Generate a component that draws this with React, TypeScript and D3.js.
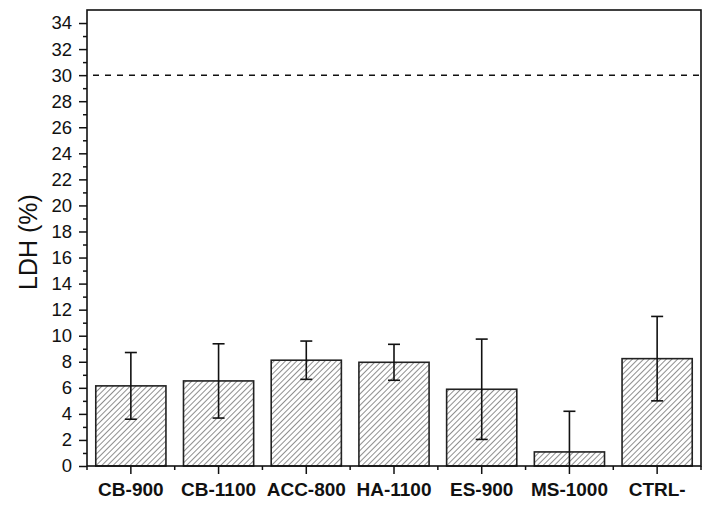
import { useEffect, useRef } from 'react';
import * as d3 from 'd3';

const categories = ['CB-900', 'CB-1100', 'ACC-800', 'HA-1100', 'ES-900', 'MS-1000', 'CTRL-'];
const means = [6.15, 6.53, 8.12, 7.96, 5.89, 1.08, 8.24];
const errors = [2.56, 2.85, 1.47, 1.38, 3.85, 3.12, 3.24];
const yMajorTicks = [0, 2, 4, 6, 8, 10, 12, 14, 16, 18, 20, 22, 24, 26, 28, 30, 32, 34];
const thresholdValue = 30;

const WIDTH = 711;
const HEIGHT = 507;
const M = { top: 10, right: 10, bottom: 41, left: 87 };
const FONT = 'Arial, "Liberation Sans", sans-serif';

export default function App() {
  const svgRef = useRef<SVGSVGElement>(null);

  useEffect(() => {
    if (!svgRef.current) return;
    const svg = d3.select(svgRef.current);
    svg.selectAll('*').remove();

    const innerW = WIDTH - M.left - M.right;
    const innerH = HEIGHT - M.top - M.bottom;

    const x = d3.scaleBand<string>().domain(categories).range([0, innerW]).paddingInner(0.2).paddingOuter(0.1);
    const xStep = d3.scaleBand<string>().domain(categories).range([0, innerW]).padding(0);
    const y = d3.scaleLinear().domain([0, 35]).range([innerH, 0]);

    const defs = svg.append('defs');
    const pat = defs
      .append('pattern')
      .attr('id', 'hatch')
      .attr('patternUnits', 'userSpaceOnUse')
      .attr('width', 4)
      .attr('height', 4)
      .attr('patternTransform', 'rotate(45)');
    pat.append('rect').attr('width', 4).attr('height', 4).attr('fill', '#fff');
    pat.append('line').attr('x1', 0).attr('y1', 0).attr('x2', 0).attr('y2', 4).attr('stroke', '#444').attr('stroke-width', 1.2);

    defs
      .append('clipPath')
      .attr('id', 'plotclip')
      .append('rect')
      .attr('width', innerW)
      .attr('height', innerH);

    const g = svg.append('g').attr('transform', `translate(${M.left},${M.top})`);

    // bars
    g.selectAll('.bar')
      .data(categories)
      .join('rect')
      .attr('class', 'bar')
      .attr('x', (d) => x(d)!)
      .attr('width', x.bandwidth())
      .attr('y', (_, i) => y(means[i]))
      .attr('height', (_, i) => y(0) - y(means[i]))
      .attr('fill', 'url(#hatch)')
      .attr('stroke', '#222')
      .attr('stroke-width', 1.6);

    // error bars
    const eb = g.append('g').attr('clip-path', 'url(#plotclip)');
    categories.forEach((c, i) => {
      const cx = x(c)! + x.bandwidth() / 2;
      const hi = y(means[i] + errors[i]);
      const lo = y(means[i] - errors[i]);
      eb.append('line').attr('x1', cx).attr('x2', cx).attr('y1', hi).attr('y2', lo).attr('stroke', '#111').attr('stroke-width', 1.6);
      [hi, lo].forEach((yy) =>
        eb.append('line').attr('x1', cx - 6).attr('x2', cx + 6).attr('y1', yy).attr('y2', yy).attr('stroke', '#111').attr('stroke-width', 1.6),
      );
    });

    // threshold line
    g.append('line')
      .attr('x1', 6)
      .attr('x2', innerW)
      .attr('y1', y(thresholdValue))
      .attr('y2', y(thresholdValue))
      .attr('stroke', '#111')
      .attr('stroke-width', 1.5)
      .attr('stroke-dasharray', '6,6');

    // frame
    g.append('rect').attr('width', innerW).attr('height', innerH).attr('fill', 'none').attr('stroke', '#111').attr('stroke-width', 1.6);

    // y axis
    const yAxis = g.append('g').call(d3.axisLeft(y).tickValues(yMajorTicks).tickSize(8).tickPadding(7).tickFormat(d3.format('d')));
    yAxis.select('.domain').remove();
    yAxis.selectAll('line').attr('stroke', '#111').attr('stroke-width', 1.5);
    yAxis.selectAll('text').attr('font-family', FONT).attr('font-size', 18.5).attr('fill', '#111');
    const yMinor = g.append('g').call(d3.axisLeft(y).tickValues(d3.range(1, 35, 2)).tickSize(4).tickFormat(() => ''));
    yMinor.select('.domain').remove();
    yMinor.selectAll('line').attr('stroke', '#111').attr('stroke-width', 1.5);

    // x axis
    const xAxis = g
      .append('g')
      .attr('transform', `translate(0,${innerH})`)
      .call(d3.axisBottom(xStep).tickSize(8).tickPadding(9));
    xAxis.select('.domain').remove();
    xAxis.selectAll('line').attr('stroke', '#111').attr('stroke-width', 1.5);
    xAxis.selectAll('text').attr('font-family', FONT).attr('font-size', 19).attr('font-weight', 'bold').attr('fill', '#111');
    const bounds = d3.range(0, categories.length + 1).map((i) => i * xStep.step());
    g.append('g')
      .selectAll('line')
      .data(bounds)
      .join('line')
      .attr('x1', (d) => d)
      .attr('x2', (d) => d)
      .attr('y1', innerH)
      .attr('y2', innerH + 4)
      .attr('stroke', '#111')
      .attr('stroke-width', 1.5);

    // y label
    svg
      .append('text')
      .attr('transform', `translate(37,${M.top + innerH / 2 + 4}) rotate(-90)`)
      .attr('text-anchor', 'middle')
      .attr('font-family', FONT)
      .attr('font-size', 25)
      .attr('fill', '#111')
      .text('LDH (%)');
  }, []);

  return <svg ref={svgRef} width={WIDTH} height={HEIGHT} style={{ display: 'block', margin: -8 }} />;
}
